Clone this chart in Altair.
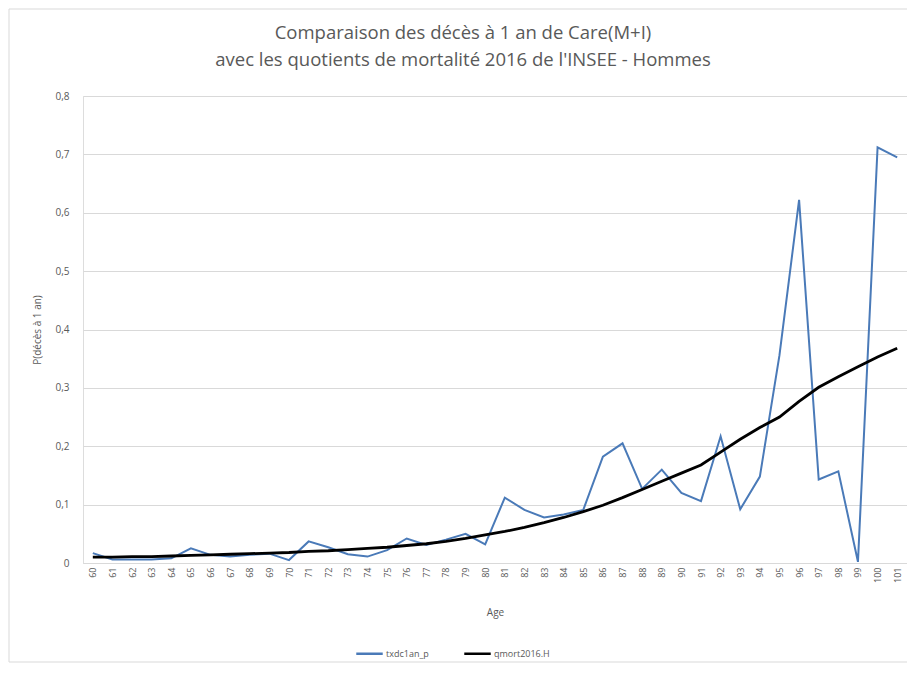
import altair as alt
import pandas as pd

ages = [str(a) for a in range(60, 102)]

txdc1an_p = [0.017, 0.006, 0.006, 0.006, 0.008, 0.025, 0.014, 0.011, 0.014, 0.016,
             0.005, 0.037, 0.027, 0.015, 0.011, 0.022, 0.042, 0.031, 0.040, 0.050,
             0.032, 0.112, 0.091, 0.078, 0.083, 0.091, 0.182, 0.205, 0.127, 0.160,
             0.120, 0.106, 0.217, 0.092, 0.148, 0.356, 0.622, 0.143, 0.157, 0.002,
             0.712, 0.695]

qmort2016_H = [0.010, 0.010, 0.011, 0.011, 0.012, 0.013, 0.014, 0.015, 0.016, 0.017,
               0.018, 0.020, 0.021, 0.023, 0.025, 0.027, 0.030, 0.033, 0.037, 0.042,
               0.048, 0.054, 0.061, 0.069, 0.078, 0.088, 0.099, 0.112, 0.126, 0.140,
               0.154, 0.168, 0.190, 0.212, 0.232, 0.250, 0.277, 0.301, 0.319, 0.336,
               0.353, 0.368]

series_names = ["txdc1an_p", "qmort2016.H"]
series_colors = ["#4a7ab8", "#000000"]
y_ticks = [0, 0.1, 0.2, 0.3, 0.4, 0.5, 0.6, 0.7, 0.8]

df = pd.DataFrame({
    "age": ages * 2,
    "value": txdc1an_p + qmort2016_H,
    "serie": [series_names[0]] * len(ages) + [series_names[1]] * len(ages),
})

W, H = 824, 467
GRAY = "#595959"

color = alt.Color(
    "serie:N",
    scale=alt.Scale(domain=series_names, range=series_colors),
    legend=alt.Legend(
        title=None, orient="none", direction="horizontal",
        legendX=272, legendY=543,
        symbolType="stroke", symbolStrokeWidth=2.5, symbolSize=700,
        labelFontSize=9, labelColor=GRAY, labelFont="Open Sans",
        columnPadding=30, labelOffset=2,
    ),
)

x = alt.X(
    "age:O", sort=ages,
    axis=alt.Axis(
        title="Age", labelAngle=270, labelFontSize=9, labelColor=GRAY,
        labelFont="Open Sans", labelPadding=4, ticks=False,
        domainColor="#d9d9d9", titleFontSize=10, titleFontWeight="normal",
        titleColor=GRAY, titleFont="Open Sans", titlePadding=25,
    ),
)
y = alt.Y(
    "value:Q",
    scale=alt.Scale(domain=[0, 0.8], nice=False),
    axis=alt.Axis(
        title="P(décès à 1 an)", values=y_ticks,
        labelExpr="datum.value == 0 ? '0' : replace(format(datum.value, '.1f'), '.', ',')",
        labelFontSize=10, labelColor=GRAY, labelFont="Open Sans", labelPadding=14,
        ticks=False, domain=False, gridColor="#d9d9d9", gridWidth=1,
        titleFontSize=10, titleFontWeight="normal", titleColor=GRAY,
        titleFont="Open Sans", titlePadding=12,
    ),
)

base = alt.Chart(df)
blue = base.transform_filter(alt.datum.serie == series_names[0]).mark_line(strokeWidth=2).encode(x=x, y=y, color=color)
black = base.transform_filter(alt.datum.serie == series_names[1]).mark_line(strokeWidth=2.8).encode(x=x, y=y, color=color)

border = alt.Chart(pd.DataFrame({"d": [0]})).mark_rect(
    fill=None, stroke="#d9d9d9", strokeWidth=1
).encode(
    x=alt.value(-74), x2=alt.value(W + 2), y=alt.value(-87), y2=alt.value(H + 99)
)

chart = alt.layer(border, blue, black).properties(
    width=W, height=H,
    title=alt.Title(
        text=["Comparaison des décès à 1 an de Care(M+I)",
              "avec les quotients de mortalité 2016 de l'INSEE - Hommes"],
        fontSize=18.5, font="Open Sans", fontWeight="normal", color=GRAY,
        lineHeight=27, anchor="middle", dx=-32, offset=-61,
    ),
    autosize=alt.AutoSizeParams(type="none"),
    padding={"left": 75, "top": 88, "right": 0, "bottom": 102},
).configure_view(stroke=None).configure(background="white")

chart.save("out.html", embed_options={"renderer": "svg", "actions": False})
